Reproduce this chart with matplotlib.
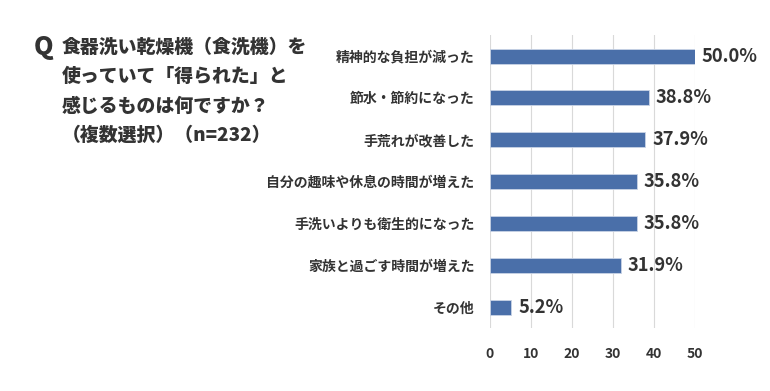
import matplotlib
matplotlib.use("Agg")
import matplotlib.pyplot as plt
import numpy as np

plt.rcParams['font.family'] = ['Noto Sans CJK JP', 'DejaVu Sans']

# data, top to bottom
labels = ['精神的な負担が減った', '節水・節約になった', '手荒れが改善した',
          '自分の趣味や休息の時間が増えた', '手洗いよりも衛生的になった',
          '家族と過ごす時間が増えた', 'その他']
values = [50.0, 38.8, 37.9, 35.8, 35.8, 31.9, 5.2]
xticks = [0, 10, 20, 30, 40, 50]
title_lines = ['食器洗い乾燥機（食洗機）を', '使っていて「得られた」と',
               '感じるものは何ですか？', '（複数選択）（n=232）']

txt = '#333333'
bar_col = '#4a6fa9'

fig = plt.figure(figsize=(7.7, 3.91), dpi=100)
ax = fig.add_axes([0.636, 0.161, 0.2666, 0.749])

y = np.arange(len(labels))
ax.barh(y, values, height=0.36, color=bar_col, edgecolor='#c9d3e6', linewidth=0.6, zorder=3)
for yi, v in zip(y, values):
    ax.text(v + 1.7, yi, f'{v:.1f}%', va='center', ha='left',
            fontsize=13.2, fontweight='bold', color=txt)

ax.set_ylim(len(labels) - 0.5, -0.5)
ax.set_xlim(0, 50)
ax.set_yticks(y)
ax.set_yticklabels(labels, fontsize=10, fontweight='bold', color=txt)
ax.set_xticks(xticks)
ax.set_xticklabels([str(t) for t in xticks], fontsize=10, fontweight='bold', color=txt)
ax.tick_params(axis='y', length=0, pad=11)
ax.tick_params(axis='x', length=0, pad=14)
ax.grid(axis='x', color='#d9d9d9', linewidth=0.8, zorder=0)
for s in ax.spines.values():
    s.set_visible(False)

# question block
fig.text(34 / 770, 1 - 47 / 391, 'Q', fontsize=18, fontweight='heavy', color=txt,
         va='center', ha='left')
for i, line in enumerate(title_lines):
    fig.text(62 / 770, 1 - (47 + i * 29.5) / 391, line, fontsize=13.6,
             fontweight='heavy', color=txt, va='center', ha='left')

fig.savefig('out.png', dpi=100, facecolor='white')
